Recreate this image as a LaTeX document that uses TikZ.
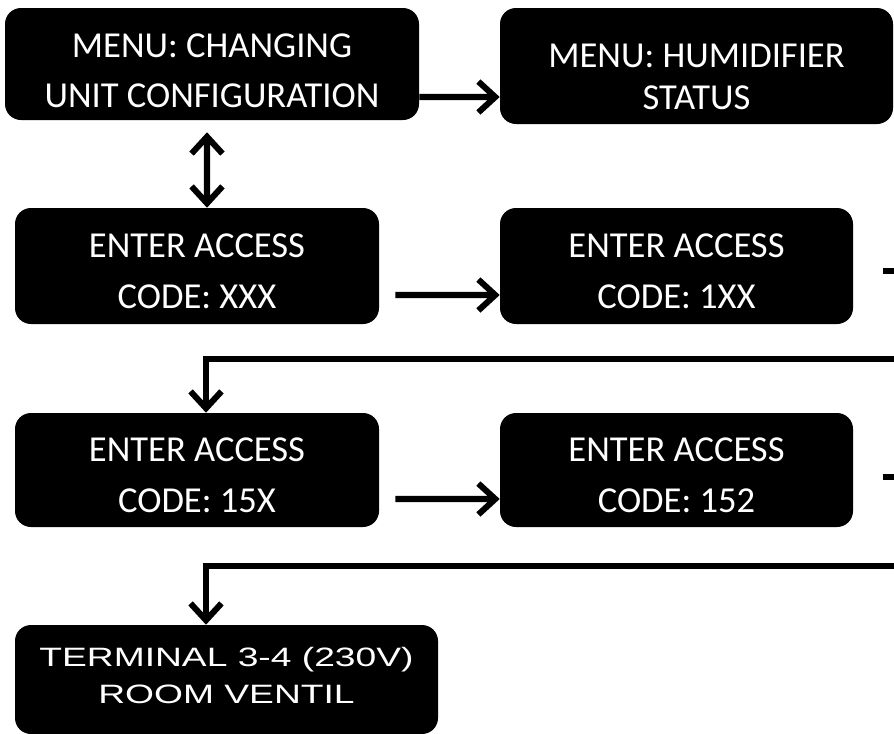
\documentclass[tikz,border=0pt]{standalone}
\usepackage{fontspec}
\setmainfont{Carlito}
\newfontfamily\termfont[FakeStretch=1.4]{Liberation Sans}
\usetikzlibrary{arrows.meta}

\tikzset{
  menubox/.style={fill=black, text=white, rounded corners=0.4cm, align=center, inner sep=0pt,
    font=\fontsize{26}{36}\selectfont, execute at begin node={\rule{0pt}{#1}}},
  menubox/.default=60.5pt,
  termbox/.style={menubox=0pt, font=\termfont\fontsize{18.9}{26.3}\selectfont,
    execute at end node={\rule[-6.4pt]{0pt}{6.4pt}}},
  flow/.style={line width=4.3pt, -{Straight Barb[length=12pt,width=22pt]}},
  both/.style={line width=4.3pt, {Straight Barb[length=12pt,width=22pt]}-{Straight Barb[length=12pt,width=22pt]}}
}

\begin{document}
\begin{tikzpicture}
    \useasboundingbox (0,0) rectangle (22.35,-18.325);
    \node[menubox=62.7pt, minimum width=10.35cm, minimum height=2.8cm] (unit) at (5.3,-1.6) {MENU: CHANGING\\UNIT CONFIGURATION};
    \node[menubox=61.7pt, font=\fontsize{26}{30}\selectfont, minimum width=9.825cm, minimum height=2.9cm] (humid) at (17.4125,-1.65) {MENU: HUMIDIFIER\\STATUS};
    \node[menubox, minimum width=9.1cm, minimum height=2.9cm] (codea) at (4.925,-6.65) {ENTER ACCESS\\CODE: XXX};
    \node[menubox, minimum width=8.825cm, minimum height=2.9cm] (codeb) at (16.9125,-6.65) {ENTER ACCESS\\CODE: 1XX};
    \node[menubox, minimum width=9.1cm, minimum height=2.85cm] (codec) at (4.925,-11.75) {ENTER ACCESS\\CODE: 15X};
    \node[menubox, minimum width=8.825cm, minimum height=2.85cm] (coded) at (16.9125,-11.75) {ENTER ACCESS\\CODE: 152};
    \node[termbox, minimum width=10.575cm, minimum height=2.725cm] (term) at (5.6625,-16.9875) {TERMINAL 3-4 (230V)\\ROOM VENTIL};

    \draw[flow] ([yshift=-0.825cm]unit.east) -- ([yshift=-0.775cm]humid.west);
    \draw[both] ([xshift=-0.125cm,yshift=-0.3cm]unit.south) -- ([xshift=0.25cm]codea.north);
    \draw[flow] ([shift={(0.4,-0.725)}]codea.east) -- ([yshift=-0.725cm]codeb.west);
    \draw[flow] ([shift={(0.4,-0.725)}]codec.east) -- ([yshift=-0.725cm]coded.west);

    % lines coming back from the right edge
    \coordinate (brk1) at (22.35,-8.975);
    \coordinate (brk2) at (22.35,-14.15);
    \draw[flow] (brk1) -| ([xshift=0.225cm]codec.north);
    \draw[flow] (brk2) -| ([xshift=-0.5125cm]term.north);

    \draw[line width=4.3pt] ([shift={(0.75,-0.125)}]codeb.east) -- ++(0.3,0);
    \draw[line width=4.3pt] ([shift={(0.75,-0.175)}]coded.east) -- ++(0.3,0);
\end{tikzpicture}
\end{document}
